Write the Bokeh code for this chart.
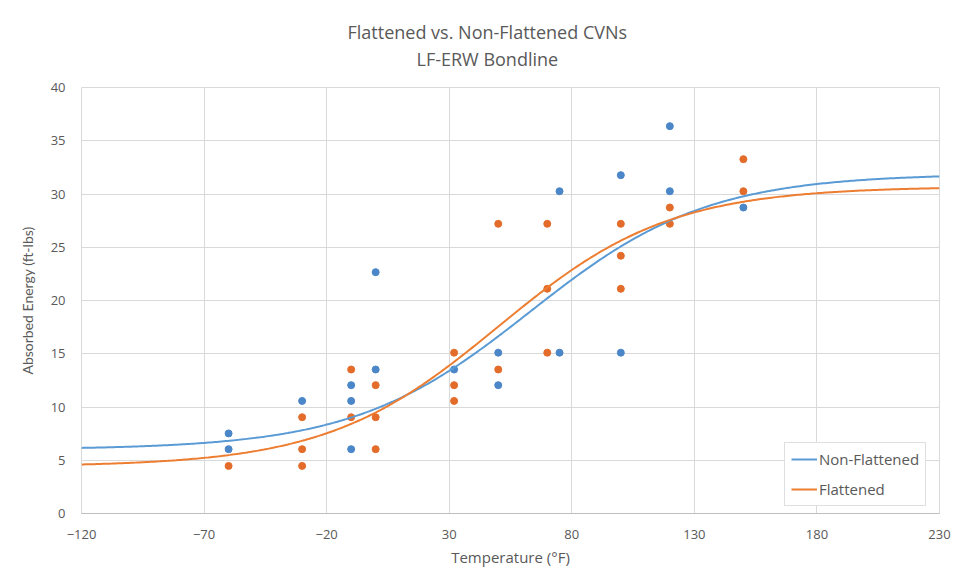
import numpy as np
from bokeh.plotting import figure
from bokeh.models import (ColumnDataSource, FixedTicker, Legend, LegendItem, Range1d, Title)
from bokeh.embed import file_html
from bokeh.resources import INLINE

# Charpy results, temperature (°F) and absorbed energy (ft-lbs)
nf_temp = [-60, -60, -30, -10, -10, -10, 0, 0, 32, 50, 50, 75, 75, 100, 100, 120, 120, 150]
nf_energy = [7.52, 6.04, 10.57, 12.05, 10.57, 6.04, 22.66, 13.52, 13.52, 15.1, 12.05,
             30.26, 15.1, 31.77, 15.1, 36.37, 30.26, 28.73]

fl_temp = [-60, -30, -30, -30, -10, -10, 0, 0, 0, 32, 32, 32, 50, 50, 70, 70, 70,
           100, 100, 100, 120, 120, 150, 150]
fl_energy = [4.47, 9.04, 6.04, 4.47, 13.52, 9.04, 12.05, 9.04, 6.04, 15.1, 12.05, 10.57,
             13.52, 27.2, 27.2, 21.1, 15.1, 27.2, 24.2, 21.1, 28.73, 27.2, 33.27, 30.26]

# tanh transition-curve fits: [A, B, T0, C] -> A + B*tanh((T - T0)/C)
nf_fit = [18.95, 12.95, 63.0, 72.0]
fl_fit = [17.55, 13.15, 50.0, 70.0]

x_ticks = [-120, -70, -20, 30, 80, 130, 180, 230]
y_ticks = [0, 5, 10, 15, 20, 25, 30, 35, 40]

BLUE_LINE = "#5b9bd5"
BLUE_PT = "#4a86c8"
ORANGE_LINE = "#ed7d31"
ORANGE_PT = "#e46c2a"
TEXT = "#595959"
GRID = "#d9d9d9"
FONT = "Open Sans"
VFONT = "Lato"


def tanh_curve(fit, t):
    a, b, t0, c = fit
    return a + b * np.tanh((t - t0) / c)


t_curve = np.linspace(x_ticks[0], x_ticks[-1], 400)

p = figure(width=959, height=583, output_backend="svg", toolbar_location=None,
           x_range=Range1d(x_ticks[0], x_ticks[-1]), y_range=Range1d(y_ticks[0], y_ticks[-1]),
           min_border_left=81, min_border_right=20, min_border_top=87, min_border_bottom=70)

# main title on the outside, subtitle added next to the frame;
# both are centred over the whole chart area rather than the frame
p.title.text = "Flattened vs. Non-Flattened CVNs"
p.title.align = "left"
p.title.offset = 266
p.title.text_font = FONT
p.title.text_font_size = "18px"
p.title.text_font_style = "normal"
p.title.text_color = TEXT
p.title.standoff = -31
sub_title = Title(text="LF-ERW Bondline", align="left", offset=335,
                  text_font=FONT, text_font_size="18px", text_font_style="normal",
                  text_color=TEXT, standoff=33)
p.add_layout(sub_title, "above")

p.outline_line_color = GRID
p.background_fill_color = "white"
p.border_fill_color = "white"

for ax, ticks in ((p.xaxis, x_ticks), (p.yaxis, y_ticks)):
    ax.ticker = FixedTicker(ticks=ticks)
    ax.major_tick_line_color = None
    ax.minor_tick_line_color = None
    ax.major_label_text_font = FONT
    ax.major_label_text_font_size = "13px"
    ax.major_label_text_color = TEXT
    ax.axis_label_text_font_style = "normal"
    ax.axis_label_text_color = TEXT

p.xaxis.axis_line_color = "#bfbfbf"
p.yaxis.axis_line_color = None
p.xaxis.axis_label = "Temperature (°F)"
p.yaxis.axis_label = "Absorbed Energy (ft-lbs)"
p.xaxis.axis_label_text_font = FONT
p.xaxis.axis_label_text_font_size = "15px"
p.yaxis.axis_label_text_font = VFONT
p.yaxis.axis_label_text_font_size = "14px"
p.xaxis.major_label_standoff = 10
p.yaxis.major_label_standoff = 10
p.xaxis.axis_label_standoff = 5
p.yaxis.axis_label_standoff = 12

p.xgrid.grid_line_color = GRID
p.ygrid.grid_line_color = GRID

nf_src = ColumnDataSource(dict(t=nf_temp, e=nf_energy))
fl_src = ColumnDataSource(dict(t=fl_temp, e=fl_energy))

p.scatter("t", "e", source=nf_src, size=7, color=BLUE_PT)
p.scatter("t", "e", source=fl_src, size=7, color=ORANGE_PT)

nf_line = p.line(t_curve, tanh_curve(nf_fit, t_curve), line_color=BLUE_LINE, line_width=2)
fl_line = p.line(t_curve, tanh_curve(fl_fit, t_curve), line_color=ORANGE_LINE, line_width=2)

legend = Legend(items=[LegendItem(label="Non-Flattened", renderers=[nf_line]),
                       LegendItem(label="Flattened", renderers=[fl_line])],
                location=(703, 7), orientation="vertical",
                label_text_font=FONT, label_text_font_size="15px", label_text_color=TEXT,
                glyph_width=26, glyph_height=20, label_height=20, label_standoff=2,
                spacing=10, padding=6, margin=0,
                border_line_color="#bfbfbf", background_fill_color="white",
                background_fill_alpha=1.0)
p.add_layout(legend, "center")

open("out.html", "w").write(file_html(p, INLINE))
